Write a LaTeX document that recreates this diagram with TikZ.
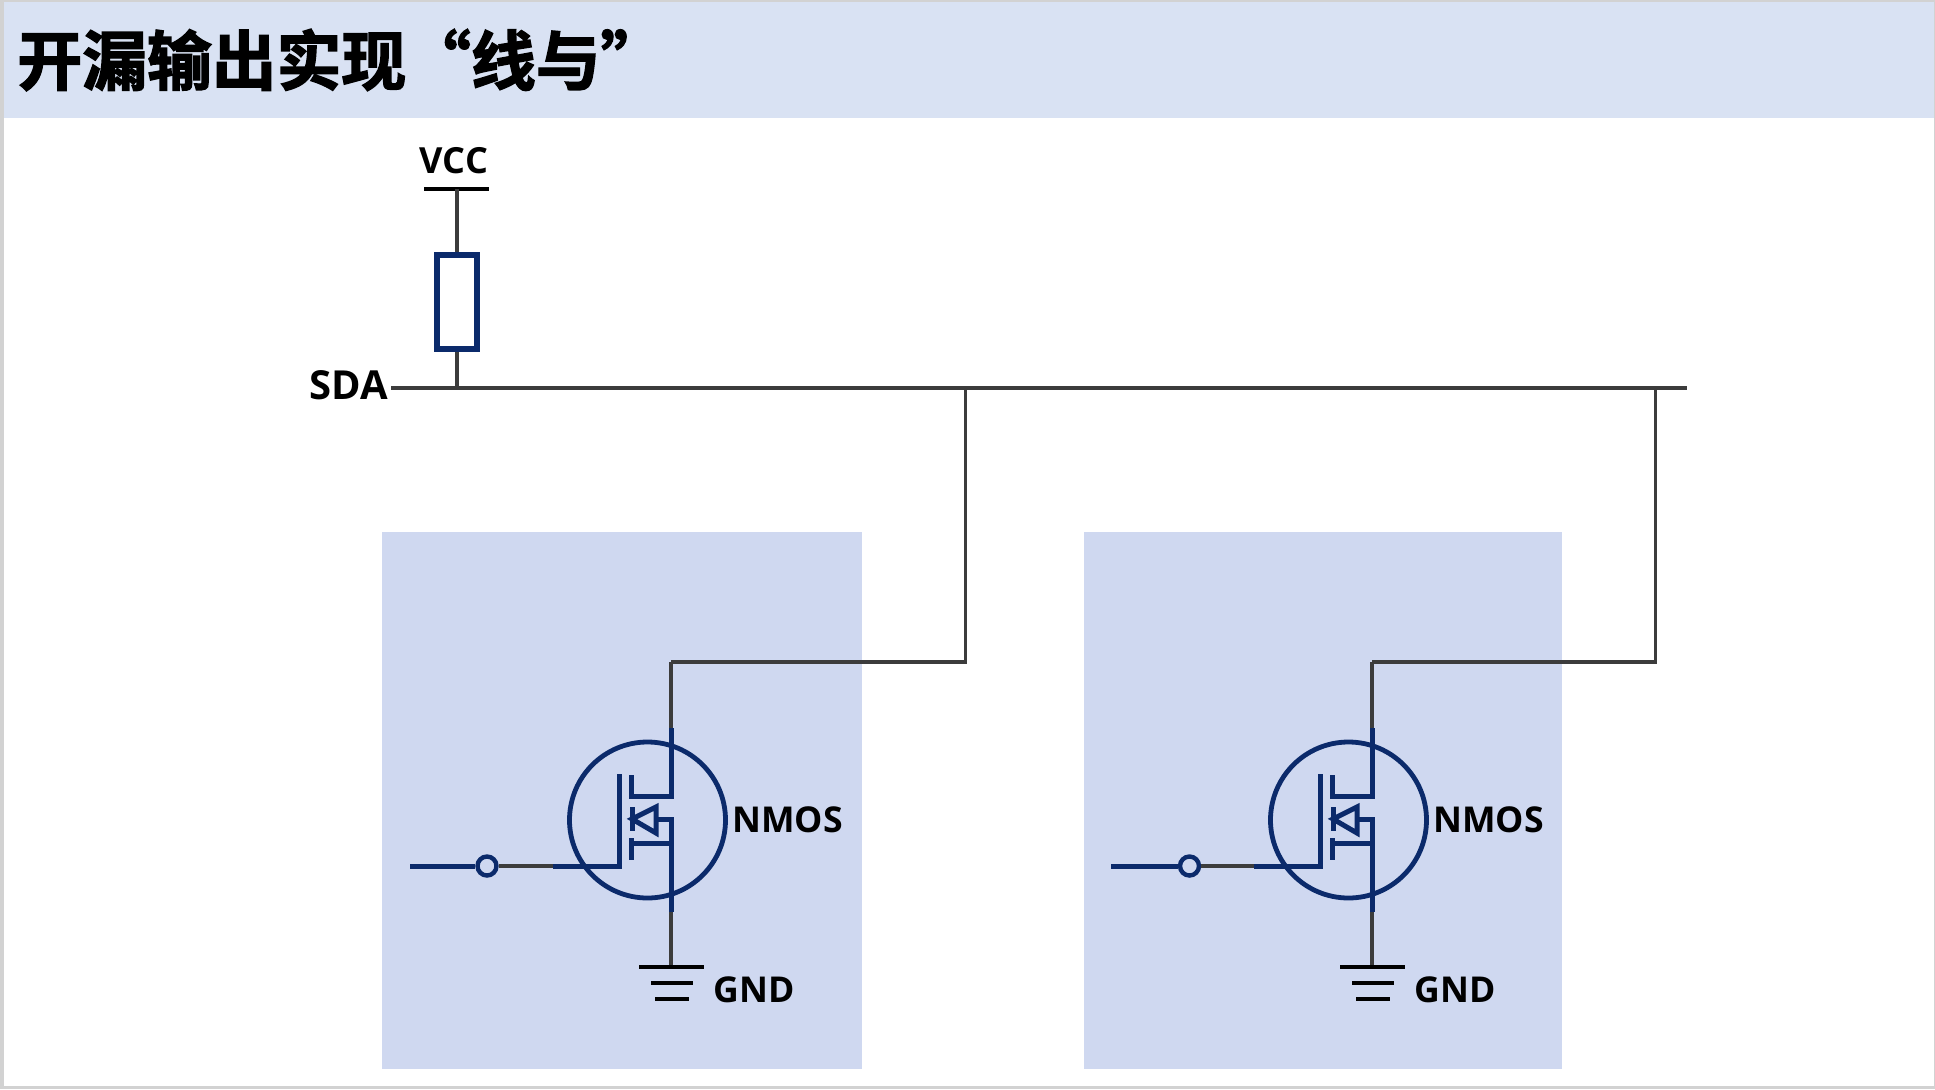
\documentclass[tikz,border=0pt]{standalone}
\usepackage{fontspec}
\usepackage{xcolor}
\usepackage{tikz}
\usetikzlibrary{calc,positioning}
\setmainfont{Open Sans}
\newfontfamily\cjk[AutoFakeBold=2.2]{Noto Sans CJK SC Bold}
\definecolor{navyx}{HTML}{0B2A6B}
\definecolor{wirex}{HTML}{3C3C3C}
\definecolor{bandx}{HTML}{D9E2F3}
\definecolor{chipx}{HTML}{CFD8F0}
\definecolor{framex}{HTML}{D2D2D2}
\tikzset{
  wire/.style={wirex,line width=1.8pt,line join=miter},
  sym/.style={navyx,line width=2.5pt,line join=miter},
  bar/.style={black,line width=2.3pt},
  lab/.style={font=\fontsize{17.8}{20}\selectfont\bfseries,text=black,inner sep=0pt}
}
\begin{document}
\begin{tikzpicture}[x=0.5pt,y=-0.5pt]
\useasboundingbox (0,0) rectangle (1935,1089);
\fill[framex] (0,0) rectangle (1935,1089);
\fill[white] (4,2) rectangle (1934,1086);
\fill[bandx] (4,2) rectangle (1934,118);
\node[anchor=west,inner sep=0pt,font=\cjk\fontsize{32.4}{36}\selectfont\bfseries] (title) at (17,60) {开漏输出实现“线与”};
% power rail and pull-up
\node[lab,font=\fontsize{18}{20}\selectfont\bfseries] (vcc) at (454,161) {VCC};
\coordinate (vcctop) at (457,189);
\coordinate (vccl) at (424,189);
\coordinate (vccr) at (489,189);
\node[draw=navyx,line width=2.6pt,fill=white,minimum width=20pt,minimum height=47pt,inner sep=0pt] (rup) at (457,302) {};
\node[lab,anchor=east,font=\fontsize{20}{22}\selectfont\bfseries] (sda) at (388,385) {SDA};
\coordinate (sdal) at (391,388);
\coordinate (sdar) at (1687,388);
\coordinate (sdaj) at (457,388);
\draw[bar] (vccl) -- (vccr);
\draw[wire] (vcctop) -- (rup) -- (sdaj);
\draw[wire] (sdal) -- (sdar);
% two open-drain stages
\fill[chipx] (382,532) rectangle (862,1069);
\fill[chipx] (1084,532) rectangle (1562,1069);
\foreach \nm/\ox/\wx/\px in {a/0/965.5/487,b/701/1655.5/488.5}{
  \begin{scope}[xshift=\ox*0.5pt]
  \node[lab,anchor=west] (nmos\nm) at (732,820) {NMOS};
  \node[lab,anchor=west] (gnd\nm) at (713,990) {GND};
  \node[draw=navyx,line width=2.4pt,circle,minimum size=78pt,inner sep=0pt] (body\nm) at (647.5,820) {};
  \node[draw=navyx,line width=2.2pt,circle,minimum size=9.5pt,inner sep=0pt] (pin\nm) at (\px,866) {};
  \coordinate (ds\nm) at (671,728);
  \coordinate (st\nm) at (671,912);
  \coordinate (dtop\nm) at (671,662);
  \coordinate (gl\nm) at (410,866);
  \coordinate (gs\nm) at (553,866);
  \coordinate (gnd0\nm) at (671,967);
  \draw[wire] (pin\nm) -- (gs\nm);
  \draw[sym] (gl\nm) -- (pin\nm);
  \draw[sym] (gs\nm) -- (619,866) -- (619,774);
  \draw[sym] (ds\nm) -- (671,796) -- (631,796) -- (631,775);
  \draw[sym] (st\nm) -- (671,819) -- (656,819);
  \draw[sym] (671,843) -- (631,843);
  \draw[sym] (631,838) -- (631,860);
  \draw[sym] (632,807) -- (632,831);
  \draw[sym] (632,819) -- (656,807) -- (656,833) -- cycle;
  \draw[wire] (st\nm) -- (gnd0\nm);
  \draw[bar] (639,967) -- (704,967);
  \draw[bar] (651,983) -- (693,983);
  \draw[bar] (655,999) -- (689,999);
  \draw[wire] (ds\nm) -- (dtop\nm);
  \end{scope}
  \coordinate (tap\nm) at (\wx,388);
  \draw[wire] (dtop\nm) -- (tap\nm |- dtop\nm) -- (tap\nm);
}
\end{tikzpicture}
\end{document}
